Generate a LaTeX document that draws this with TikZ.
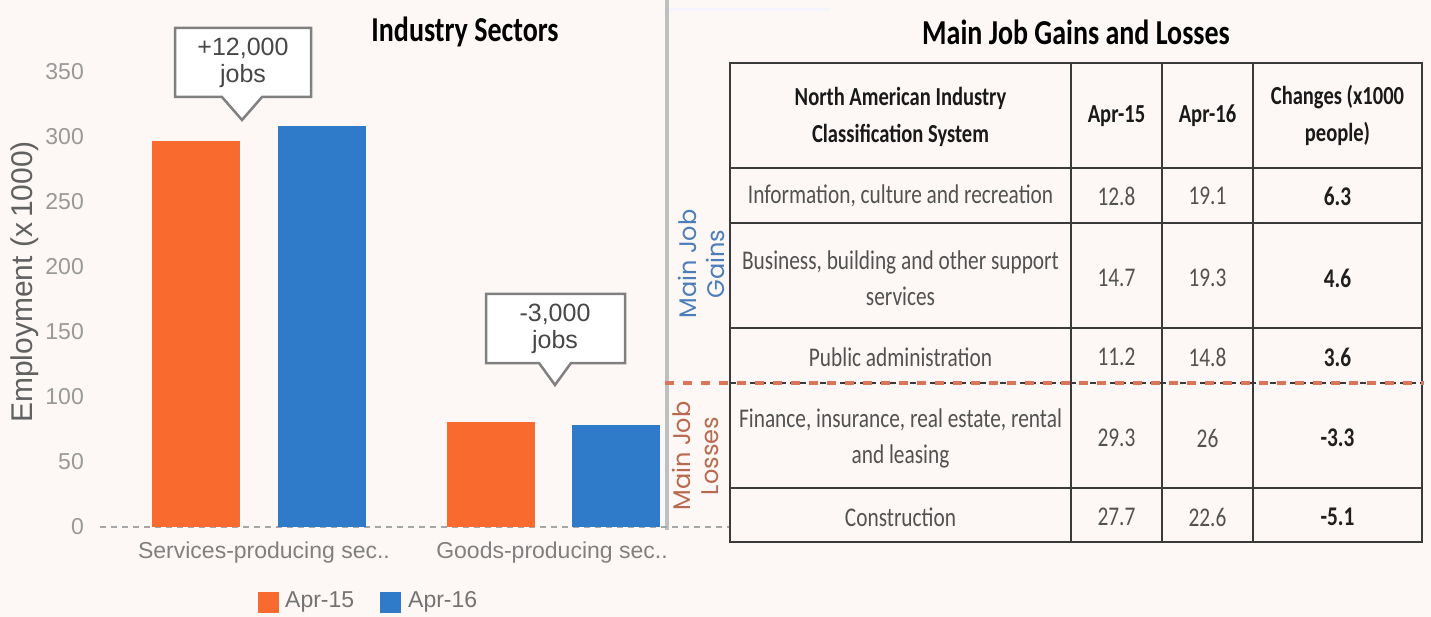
\documentclass[tikz,border=0pt]{standalone}
\usepackage{fontspec}
\setmainfont{Carlito}
\newfontfamily\tabfont[FakeStretch=0.79]{Carlito}
\newfontfamily\titlefont[FakeStretch=0.8]{Carlito}
\newfontfamily\chartfont{Liberation Sans}
\newfontfamily\geofont{Poppins}
\definecolor{bg}{HTML}{FDF7F5}
\definecolor{or}{HTML}{F96A2E}
\definecolor{bl}{HTML}{2F7BC9}
\definecolor{gainc}{HTML}{4C7EB9}
\definecolor{lossc}{HTML}{B8694E}
\definecolor{tl}{HTML}{3A3A3A}
\definecolor{dashor}{HTML}{D9765A}
\tikzset{
  bar/.style={inner sep=0pt, minimum width=88pt, anchor=south west, draw=none},
  ytick/.style={anchor=east, inner sep=0pt, font=\chartfont\fontsize{23}{23}\selectfont, text=black!40},
  catlab/.style={inner sep=0pt, font=\chartfont\fontsize{23}{23}\selectfont, text=black!50},
  legtxt/.style={anchor=west, inner sep=0pt, font=\chartfont\fontsize{23}{23}\selectfont, text=black!55},
  legbox/.style={inner sep=0pt, minimum width=21pt, minimum height=21pt},
  callbox/.style={draw=black!50, line width=2.5pt, fill=white, line join=miter},
  calltxt/.style={align=center, inner sep=0pt, font=\chartfont\fontsize{25}{27}\selectfont, text=black!72},
  ttl/.style={inner sep=0pt, font=\titlefont\bfseries\fontsize{35}{35}\selectfont, text=black},
  tline/.style={draw=tl, line width=2.2pt},
  hdr/.style={align=center, inner sep=0pt, font=\tabfont\bfseries\fontsize{26}{37}\selectfont, text=black!90},
  cell/.style={align=center, inner sep=0pt, font=\tabfont\fontsize{27}{36}\selectfont, text=black!68},
  chg/.style={align=center, inner sep=0pt, font=\tabfont\bfseries\fontsize{27}{36}\selectfont, text=black!88},
  sidelab/.style={align=center, inner sep=0pt, rotate=90, font=\geofont\fontsize{24}{28}\selectfont}
}
\begin{document}
\begin{tikzpicture}[x=1pt,y=-1pt]
\useasboundingbox[fill=bg] (0,0) rectangle (1431,617);

% separator
\draw[draw=black!25, line width=4pt] (667,0) -- (667,530);
\draw[draw=blue!4, line width=3pt] (670,10) -- (830,10);

% ---------- left chart ----------
\node[ttl] (t1) at (465,32) {Industry Sectors};

\draw[draw=black!35, line width=1.3pt, dash pattern=on 6pt off 5pt] (100,527) -- (730,527);

\foreach \v/\yy in {0/527,50/462,100/397,150/332,200/267,250/202,300/137,350/72}
  \node[ytick] (yt\v) at (84,\yy) {\v};

\node[rotate=90, inner sep=0pt, font=\chartfont\fontsize{30}{30}\selectfont, text=black!62] (ylab) at (25,282) {Employment (x\,1000)};

\node[bar, fill=or, minimum height=386pt] (s15) at (152,527) {};
\node[bar, fill=bl, minimum height=401pt] (s16) at (278,527) {};
\node[bar, fill=or, minimum height=105pt] (g15) at (447,527) {};
\node[bar, fill=bl, minimum height=102pt] (g16) at (572,527) {};

\node[catlab] (cs) at (264,553) {Services-producing sec..};
\node[catlab] (cg) at (552,553) {Goods-producing sec..};

\node[legbox, fill=or] (lb1) at (268.5,602) {};
\node[legtxt] (lt1) at (285,602) {Apr-15};
\node[legbox, fill=bl] (lb2) at (390.5,602) {};
\node[legtxt] (lt2) at (408,602) {Apr-16};

% callouts
\draw[callbox] (175,28) -- (311,28) -- (311,97) -- (262,97) -- (242,120) -- (222,97) -- (175,97) -- cycle;
\node[calltxt] (c1) at (243,63) {+12,000\\jobs};
\draw[callbox] (486,294) -- (625,294) -- (625,363) -- (571,363) -- (555,385) -- (539,363) -- (486,363) -- cycle;
\node[calltxt] (c2) at (555,329) {-3,000\\jobs};

% ---------- right table ----------
\node[ttl] (t2) at (1076,32) {Main Job Gains and Losses};

\draw[tline] (730,63) rectangle (1422,542);
\foreach \yy in {168,223,328,488}
  \draw[tline] (730,\yy) -- (1422,\yy);
\foreach \xx in {1071,1162,1253}
  \draw[tline] (\xx,63) -- (\xx,542);
\draw[draw=tl, line width=1.5pt, dash pattern=on 6pt off 4pt] (730,383) -- (1422,383);
\draw[draw=dashor, line width=4.5pt, dash pattern=on 9pt off 9pt] (665,383) -- (1424,383);

\node[sidelab, text=gainc] (gl) at (701,264) {Main Job\\Gains};
\node[sidelab, text=lossc] (ll) at (695,456) {Main Job\\Losses};

\node[hdr] (h1) at (900.5,117) {North American Industry\\Classification System};
\node[hdr] (h2) at (1116.5,116) {Apr-15};
\node[hdr] (h3) at (1207.5,116) {Apr-16};
\node[hdr] (h4) at (1337.5,115) {Changes (x1000\\people)};

\node[cell] (r1a) at (900.5,196) {Information, culture and recreation};
\node[cell] (r1b) at (1116.5,196) {12.8};
\node[cell] (r1c) at (1207.5,196) {19.1};
\node[chg]  (r1d) at (1337.5,196) {6.3};

\node[cell] (r2a) at (900.5,278) {Business, building and other support\\services};
\node[cell] (r2b) at (1116.5,278) {14.7};
\node[cell] (r2c) at (1207.5,278) {19.3};
\node[chg]  (r2d) at (1337.5,278) {4.6};

\node[cell] (r3a) at (900.5,357) {Public administration};
\node[cell] (r3b) at (1116.5,357) {11.2};
\node[cell] (r3c) at (1207.5,357) {14.8};
\node[chg]  (r3d) at (1337.5,357) {3.6};

\node[cell] (r4a) at (900.5,438) {Finance, insurance, real estate, rental\\and leasing};
\node[cell] (r4b) at (1116.5,438) {29.3};
\node[cell] (r4c) at (1207.5,438) {26};
\node[chg]  (r4d) at (1337.5,438) {-3.3};

\node[cell] (r5a) at (900.5,517) {Construction};
\node[cell] (r5b) at (1116.5,517) {27.7};
\node[cell] (r5c) at (1207.5,517) {22.6};
\node[chg]  (r5d) at (1337.5,517) {-5.1};
\end{tikzpicture}
\end{document}
